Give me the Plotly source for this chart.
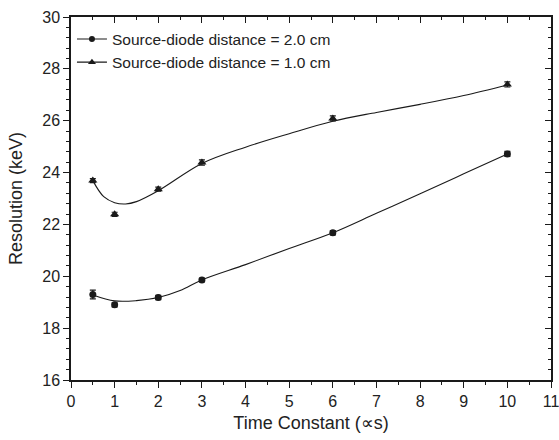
import plotly.graph_objects as go

# Measured data
time_constant = [0.5, 1, 2, 3, 6, 10]
res_2cm = [19.3, 18.9, 19.18, 19.86, 21.68, 24.72]
err_2cm = [0.17, 0.08, 0.08, 0.07, 0.08, 0.1]
res_1cm = [23.69, 22.39, 23.36, 24.39, 26.09, 27.4]
err_1cm = [0.08, 0.08, 0.08, 0.1, 0.1, 0.1]

# Fitted curves
fit_x_2cm = [0.5, 1.0, 1.5, 2.0, 2.5, 3, 4, 5, 6, 7, 8, 9, 10]
fit_y_2cm = [19.28, 19.05, 19.06, 19.18, 19.45, 19.86, 20.45, 21.07, 21.68, 22.43, 23.18, 23.95, 24.72]
fit_x_1cm = [0.5, 0.75, 1.0, 1.25, 1.5, 2, 3, 4, 5, 6, 7, 8, 9, 10]
fit_y_1cm = [23.69, 23.07, 22.84, 22.79, 22.88, 23.3, 24.35, 24.98, 25.5, 25.98, 26.32, 26.63, 26.97, 27.38]

label_2cm = "Source-diode distance = 2.0 cm"
label_1cm = "Source-diode distance = 1.0 cm"

ink = "#1a1a1a"
font_family = "Liberation Sans"

fig = go.Figure()

# fit lines
fig.add_trace(go.Scatter(x=fit_x_2cm, y=fit_y_2cm, mode="lines", line=dict(color=ink, width=1.1, shape="spline"),
                         showlegend=False, hoverinfo="skip"))
fig.add_trace(go.Scatter(x=fit_x_1cm, y=fit_y_1cm, mode="lines", line=dict(color=ink, width=1.1, shape="spline"),
                         showlegend=False, hoverinfo="skip"))

# data points with error bars
fig.add_trace(go.Scatter(x=time_constant, y=res_2cm, mode="markers",
                         marker=dict(symbol="circle", size=7, color=ink),
                         error_y=dict(type="data", array=err_2cm, color=ink, thickness=1.2, width=3),
                         showlegend=False))
fig.add_trace(go.Scatter(x=time_constant, y=res_1cm, mode="markers",
                         marker=dict(symbol="triangle-up", size=8, color=ink),
                         error_y=dict(type="data", array=err_1cm, color=ink, thickness=1.2, width=3),
                         showlegend=False))

# legend entries
fig.add_trace(go.Scatter(x=[None], y=[None], mode="lines+markers", name=label_2cm,
                         line=dict(color=ink, width=1.1), marker=dict(symbol="circle", size=6, color=ink)))
fig.add_trace(go.Scatter(x=[None], y=[None], mode="lines+markers", name=label_1cm,
                         line=dict(color=ink, width=1.1), marker=dict(symbol="triangle-up", size=7, color=ink)))

# invisible traces on the mirror axes
fig.add_trace(go.Scatter(x=[None], y=[None], xaxis="x2", yaxis="y2", showlegend=False, hoverinfo="skip"))

axis_common = dict(showgrid=False, zeroline=False, linecolor=ink, linewidth=1.5, tickcolor=ink,
                   tickwidth=1.2, automargin=False, ticklabeloverflow="allow",
                   tickfont=dict(family=font_family, size=16, color="#222"))

fig.update_layout(
    width=559, height=440,
    margin=dict(l=71, r=8, t=17, b=60),
    paper_bgcolor="white", plot_bgcolor="white",
    font=dict(family=font_family, color="#222"),
    xaxis=dict(range=[0, 11], dtick=1, tick0=0, ticks="outside", ticklen=6,
               minor=dict(dtick=0.5, ticks="outside", ticklen=3, tickcolor=ink, tickwidth=1.2),
               title=dict(text="Time Constant (∝s)", font=dict(family=font_family, size=18, color="#222"),
                          standoff=7),
               **axis_common),
    yaxis=dict(range=[16, 30], dtick=2, tick0=16, ticks="outside", ticklen=6,
               minor=dict(dtick=0.4, tick0=16, ticks="outside", ticklen=3, tickcolor=ink, tickwidth=1.2),
               title=dict(text="Resolution (keV)", font=dict(family=font_family, size=18, color="#222")),
               **axis_common),
    xaxis2=dict(overlaying="x", side="top", range=[0, 11], dtick=1, tick0=0, ticks="inside", ticklen=6,
                minor=dict(dtick=0.5, ticks="inside", ticklen=3, tickcolor=ink, tickwidth=1.2),
                showticklabels=False, **axis_common),
    yaxis2=dict(overlaying="y", side="right", range=[16, 30], dtick=2, tick0=16, ticks="inside", ticklen=6,
                minor=dict(dtick=0.4, tick0=16, ticks="inside", ticklen=3, tickcolor=ink, tickwidth=1.2),
                showticklabels=False, **axis_common),
    legend=dict(x=0.002, y=0.985, xanchor="left", yanchor="top", bgcolor="rgba(0,0,0,0)",
                font=dict(family=font_family, size=15.5, color="#222"), tracegroupgap=0, itemwidth=30),
    showlegend=True,
)

fig.write_html("out.html", config={"displayModeBar": False},
               post_script="document.body.style.margin='0';document.body.style.padding='0';document.body.style.overflow='hidden';")
